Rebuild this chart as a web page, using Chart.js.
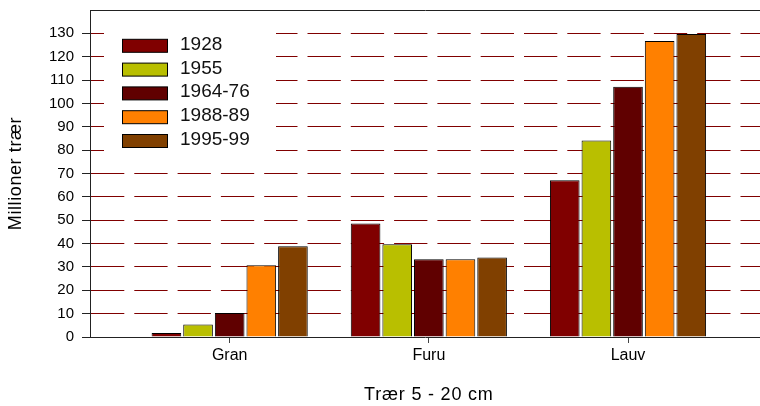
<!DOCTYPE html>
<html>
<head>
<meta charset="utf-8">
<script src="https://cdn.jsdelivr.net/npm/chart.js@4/dist/chart.umd.min.js"></script>
<style>
  html, body { margin: 0; padding: 0; background: #fff; }
  #wrap { width: 760px; height: 406px; }
</style>
</head>
<body>
<div id="wrap"><canvas id="c" width="760" height="406"></canvas></div>
<script>
// Trees 5 - 20 cm, millions, by species group and survey period
const categories = ['Gran', 'Furu', 'Lauv'];
const periods = ['1928', '1955', '1964-76', '1988-89', '1995-99'];
const v1928 = [1.7, 48.6, 67.1];
const v1955 = [5.3, 39.7, 84.1];
const v1964 = [10.3, 33.3, 107.1];
const v1988 = [30.7, 33.3, 126.7];
const v1995 = [38.9, 34.0, 129.7];
const yTicks = [0, 10, 20, 30, 40, 50, 60, 70, 80, 90, 100, 110, 120, 130];
const yMax = 140;

const series = [v1928, v1955, v1964, v1988, v1995];
const colors = ['#800000', '#B9BF00', '#600000', '#FF8000', '#804000'];

const FONT = '"Liberation Sans", Arial, Helvetica, sans-serif';
Chart.defaults.font.family = FONT;
Chart.defaults.color = '#000';

// Axis titles are set slightly spaced; the x title sits under the middle group.
const titleSpacing = {
  id: 'titleSpacing',
  beforeDraw(chart) {
    Object.values(chart.scales).forEach(scale => {
      if (scale._spacedTitle) return;
      const orig = scale.drawTitle.bind(scale);
      scale.drawTitle = function () {
        const ctx = this.ctx;
        ctx.save();
        ctx.letterSpacing = this.axis === 'x' ? '0.8px' : '0.6px';
        if (this.axis === 'x') {
          const mid = (categories.length + 1) / 2;
          ctx.translate(this.getPixelForValue(mid) - (this.left + this.right) / 2, 0);
        }
        orig();
        ctx.restore();
      };
      scale._spacedTitle = true;
    });
  }
};

// Boxed legend inside the plot, on a white panel that hides the grid behind it.
const insetLegend = {
  id: 'insetLegend',
  beforeDatasetsDraw(chart) {
    const { ctx, chartArea } = chart;
    const L = chartArea.left, T = chartArea.top;
    ctx.save();
    ctx.fillStyle = '#fff';
    ctx.fillRect(L + 14, T + 8, 172, 144);
    chart.data.datasets.forEach((ds, i) => {
      const cy = T + 35.8 + i * 23.8;
      ctx.fillStyle = ds.backgroundColor;
      ctx.fillRect(L + 32, cy - 6.5, 45, 13);
      ctx.strokeStyle = '#000';
      ctx.lineWidth = 1;
      ctx.strokeRect(L + 32.5, cy - 6.5, 45, 13);
      ctx.fillStyle = '#111';
      ctx.font = '19px ' + FONT;
      ctx.textAlign = 'left';
      ctx.textBaseline = 'middle';
      ctx.fillText(ds.label, L + 90, cy - 1.2);
    });
    ctx.restore();
  }
};

new Chart(document.getElementById('c'), {
  type: 'bar',
  data: {
    datasets: periods.map((p, k) => ({
      label: p,
      data: series[k].map((v, i) => ({ x: i + 1, y: v })),
      backgroundColor: colors[k],
      borderColor: '#000',
      borderWidth: 1,
      categoryPercentage: 0.794,
      barPercentage: 0.937
    }))
  },
  options: {
    responsive: false,
    animation: false,
    devicePixelRatio: 1,
    layout: { padding: { top: 10, left: 0, right: 0, bottom: 0 } },
    plugins: { legend: { display: false }, tooltip: { enabled: false } },
    scales: {
      x: {
        type: 'linear',
        offset: false,
        min: 0.2987,
        max: 3.6627,
        afterBuildTicks: s => { s.ticks = categories.map((_, i) => ({ value: i + 1 })); },
        afterFit: s => { s.height = 69; s.paddingLeft = 0; s.paddingRight = 0; },
        ticks: {
          callback: v => categories[v - 1] ?? '',
          font: { size: 16 },
          color: '#000',
          padding: 3,
          autoSkip: false,
          maxRotation: 0
        },
        grid: { drawOnChartArea: false, drawTicks: true, tickLength: 6, tickColor: '#444', offset: false },
        border: { color: '#222', width: 1 },
        title: {
          display: true,
          text: 'Trær 5 - 20 cm',
          font: { size: 18 },
          color: '#000',
          padding: { top: 0, bottom: 0 }
        }
      },
      y: {
        min: 0,
        max: yMax,
        afterBuildTicks: s => { s.ticks = [...yTicks, yMax].map(v => ({ value: v })); },
        afterFit: s => { s.width = 90; s.paddingTop = 0; s.paddingBottom = 0; },
        ticks: {
          callback: v => (v === yMax ? '' : v),
          font: { size: 15 },
          color: '#000',
          padding: 8
        },
        grid: {
          color: c => {
            const v = c.tick ? c.tick.value : null;
            if (v === 0) return 'rgba(0,0,0,0)';
            if (v === yMax) return '#222';
            return '#800000';
          },
          lineWidth: 1,
          tickLength: 8,
          tickColor: c => (c.tick && c.tick.value === yMax ? 'rgba(0,0,0,0)' : '#222')
        },
        border: {
          color: '#222',
          width: 1,
          dash: c => (c.tick && c.tick.value === yMax ? [] : [33.3, 10])
        },
        title: {
          display: true,
          text: 'Millioner trær',
          font: { size: 18 },
          color: '#000',
          padding: { top: 5.2, bottom: 0 }
        }
      }
    }
  },
  plugins: [titleSpacing, insetLegend]
});
</script>
</body>
</html>
